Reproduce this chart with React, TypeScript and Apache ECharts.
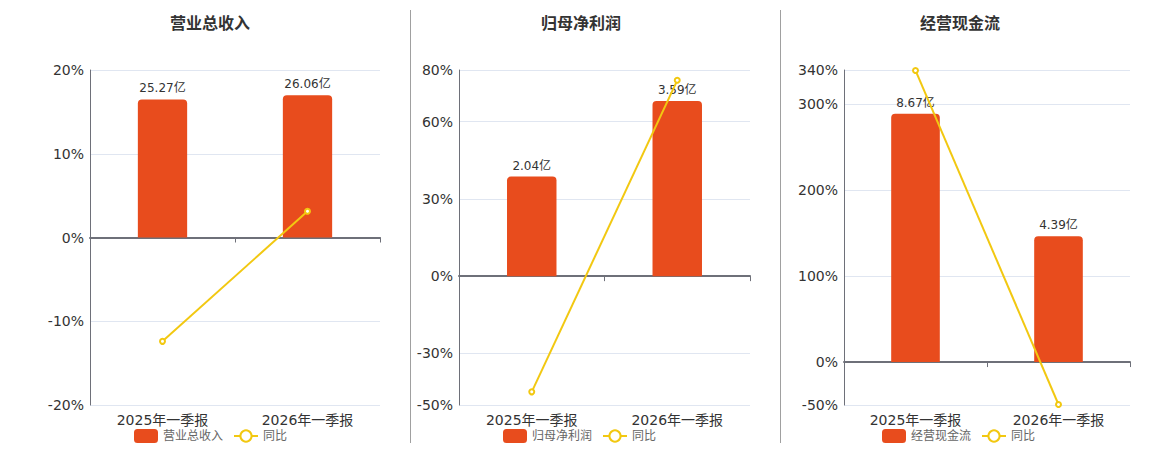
import React, { useEffect, useRef } from "react";
import * as echarts from "echarts";

const categories = ["2025年一季报", "2026年一季报"];
const titles = ["营业总收入", "归母净利润", "经营现金流"];
const barValues = [
  [25.27, 26.06],
  [2.04, 3.59],
  [8.67, 4.39],
];
const yoyValues = [
  [-12.4, 3.13],
  [-44.9, 76.0],
  [339.5, -49.4],
];
const pctMin = [-20, -50, -50];
const pctMax = [20, 80, 340];

const BAR_COLOR = "#E84C1D";
const LINE_COLOR = "#F2C811";
const FONT = "'DejaVu Sans', 'Noto Sans CJK SC', sans-serif";

const grids = [
  { left: 90, width: 290 },
  { left: 459, width: 291 },
  { left: 844, width: 286 },
];
const centers = [210, 581, 960];
const legendCenters = [210, 579, 958];

export default function App() {
  const ref = useRef<HTMLDivElement>(null);
  useEffect(() => {
    if (!ref.current) return;
    const chart = echarts.init(ref.current, undefined, { renderer: "svg" });
    const title: any[] = [];
    const legend: any[] = [];
    const grid: any[] = [];
    const xAxis: any[] = [];
    const yAxis: any[] = [];
    const series: any[] = [];
    for (let i = 0; i < 3; i++) {
      title.push({
        text: titles[i],
        left: centers[i] - 5,
        top: 10,
        textAlign: "center",
        textStyle: { fontSize: 16, fontWeight: "bold", color: "#333", fontFamily: FONT },
      });
      legend.push({
        left: legendCenters[i] - 76 - 5,
        top: 424,
        itemWidth: 24,
        itemHeight: 14,
        itemGap: 10,
        data: [titles[i], "同比"],
        textStyle: { fontSize: 12, color: "#666", fontFamily: FONT },
      });
      grid.push({ left: grids[i].left, width: grids[i].width, top: 70, height: 335 });
      // label axis at bottom
      xAxis.push({
        type: "category",
        gridIndex: i,
        data: categories,
        position: "bottom",
        axisLine: { show: false, onZero: false },
        axisTick: { show: false },
        axisLabel: { fontSize: 14, color: "#333", margin: 8, fontFamily: FONT },
      });
      // zero line axis
      xAxis.push({
        type: "category",
        gridIndex: i,
        data: categories,
        position: "top",
        axisLine: { show: true, onZero: true, onZeroAxisIndex: i * 2, lineStyle: { color: "#6E7079", width: 2 } },
        axisTick: { show: true, inside: true, length: 5, lineStyle: { color: "#6E7079" } },
        axisLabel: { show: false },
      });
      yAxis.push({
        type: "value",
        gridIndex: i,
        min: pctMin[i],
        max: pctMax[i],
        axisLine: { show: true, lineStyle: { color: "#6E7079" } },
        axisTick: { show: false },
        axisLabel: { formatter: "{value}%", fontSize: 14, color: "#333", margin: 6, fontFamily: FONT },
        splitLine: { lineStyle: { color: "#E0E6F1" } },
      });
      const bMax = Math.max(...barValues[i]) / 0.85;
      const bMin = (bMax * pctMin[i]) / pctMax[i];
      yAxis.push({
        type: "value",
        gridIndex: i,
        show: false,
        min: bMin,
        max: bMax,
        splitLine: { show: false },
      });
      series.push({
        name: titles[i],
        type: "bar",
        xAxisIndex: i * 2,
        yAxisIndex: i * 2 + 1,
        data: barValues[i],
        barWidth: "34%",
        itemStyle: { color: BAR_COLOR, borderRadius: [4, 4, 0, 0] },
        label: {
          show: true,
          position: "top",
          fontSize: 12,
          color: "#333",
          fontFamily: FONT,
          formatter: (p: any) => p.value + "亿",
        },
      });
      series.push({
        name: "同比",
        type: "line",
        xAxisIndex: i * 2,
        yAxisIndex: i * 2,
        data: yoyValues[i],
        symbol: "emptyCircle",
        symbolSize: 5,
        lineStyle: { color: LINE_COLOR, width: 2 },
        itemStyle: { color: LINE_COLOR },
        z: 3,
      });
    }
    chart.setOption({
      animation: false,
      textStyle: { fontFamily: FONT },
      title,
      legend,
      grid,
      xAxis,
      yAxis,
      series,
      graphic: [
        { type: "line", shape: { x1: 410.5, y1: 10, x2: 410.5, y2: 443 }, style: { stroke: "#A0A0A0", lineWidth: 1 } },
        { type: "line", shape: { x1: 780.5, y1: 10, x2: 780.5, y2: 443 }, style: { stroke: "#A0A0A0", lineWidth: 1 } },
      ],
    });
    return () => chart.dispose();
  }, []);
  return (
    <div
      ref={ref}
      style={{ position: "fixed", left: 0, top: 0, width: 1160, height: 450, background: "#fff" }}
    />
  );
}
